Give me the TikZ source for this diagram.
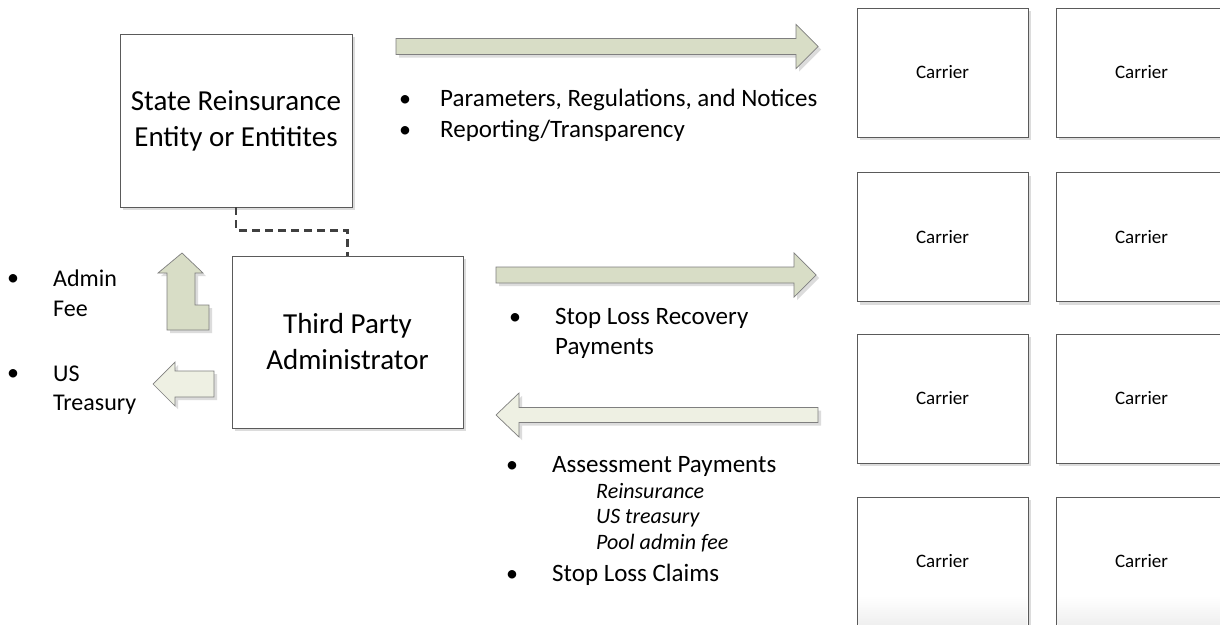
\documentclass[tikz,border=0pt]{standalone}
\usepackage{fontspec}
\setmainfont{Carlito}
\usetikzlibrary{shadows}

\definecolor{boxline}{HTML}{5A5A5A}
\definecolor{shadowc}{HTML}{DCDCDC}
\definecolor{arrowdark}{HTML}{D8DDC6}
\definecolor{arrowlight}{HTML}{EEF0E3}
\definecolor{arrowline}{HTML}{7F7F7F}
\definecolor{dashc}{HTML}{404040}

\tikzset{
  boxshadow/.style={drop shadow={shadow xshift=3pt, shadow yshift=-3pt, fill=shadowc, opacity=1}},
  entity/.style={draw=boxline, line width=0.9pt, fill=white, boxshadow,
    inner sep=0pt, align=center, font=\fontsize{29}{36}\selectfont},
  carrier/.style={draw=boxline, line width=0.9pt, fill=white, boxshadow,
    inner sep=0pt, minimum width=171pt, minimum height=129pt,
    font=\fontsize{19}{23}\selectfont},
  darkarrow/.style={fill=arrowdark, draw=arrowline, line width=0.7pt, line join=miter},
  lightarrow/.style={fill=arrowlight, draw=arrowline, line width=0.7pt, line join=miter},
  lbl/.style={anchor=base west, inner sep=0pt, font=\fontsize{24}{30}\selectfont},
  wlbl/.style={anchor=base west, inner sep=0pt, font=\fontsize{25}{30}\selectfont},
  ilbl/.style={anchor=base west, inner sep=0pt, font=\fontsize{22}{26}\selectfont\itshape},
  bul/.style={anchor=base, inner sep=0pt, font=\fontsize{24}{30}\selectfont},
  dashlink/.style={draw=dashc, line width=2.5pt, dash pattern=on 8pt off 5pt}
}

% horizontal block arrow: style, tail x, head base x, tip x, centre y, shaft half height, head half height
\newcommand\hblock[7]{%
  \fill[shadowc, shift={(3,3)}]
    ({#2},{#5-#6}) -- ({#3},{#5-#6}) -- ({#3},{#5-#7}) -- ({#4},{#5}) --
    ({#3},{#5+#7}) -- ({#3},{#5+#6}) -- ({#2},{#5+#6}) -- cycle;
  \path[#1]
    ({#2},{#5-#6}) -- ({#3},{#5-#6}) -- ({#3},{#5-#7}) -- ({#4},{#5}) --
    ({#3},{#5+#7}) -- ({#3},{#5+#6}) -- ({#2},{#5+#6}) -- cycle;
}

\begin{document}
\begin{tikzpicture}[x=1pt, y=-1pt]
\useasboundingbox[fill=white] (0,0) rectangle (1220,624);

% main entities
\node[entity, minimum width=232pt, minimum height=173pt] (state) at (236,120.5)
  {State Reinsurance\\Entity or Entitites};
\node[entity, minimum width=231pt, minimum height=172pt] (tpa) at (347.5,342)
  {Third Party\\Administrator};

% dashed link between the two entities
\draw[dashlink] (state.south) -- ++(0,23) -| (tpa.north);

% carrier grid
\foreach \r/\yc in {1/72.5, 2/237, 3/398.5, 4/561.5}{
  \node[carrier] (car\r a) at (942.5,\yc) {Carrier};
  \node[carrier] (car\r b) at (1141.5,\yc) {Carrier};
}
% soft fade at the foot of the lowest carriers
\shade[top color=white, bottom color=black!6] (858.5,596) rectangle (1027,624);
\shade[top color=white, bottom color=black!6] (1057.5,596) rectangle (1220,624);

% block arrows
\hblock{darkarrow}{396}{796}{818}{46.5}{8}{22}
\hblock{darkarrow}{496}{794}{816}{275}{8}{22}
\hblock{lightarrow}{818}{519}{496}{415}{7.5}{22}
\hblock{lightarrow}{214}{175}{153}{384}{13}{22}

% bent arrow for the admin fee
\fill[shadowc, shift={(3,3)}]
  (182,253) -- (203,273) -- (195,273) -- (195,305) -- (209,305) -- (209,330) --
  (167,330) -- (167,273) -- (158,273) -- cycle;
\path[darkarrow]
  (182,253) -- (203,273) -- (195,273) -- (195,305) -- (209,305) -- (209,330) --
  (167,330) -- (167,273) -- (158,273) -- cycle;

% left side labels
\node[bul] (b1) at (13,285) {•};
\node[lbl] (t1) at (53,286) {Admin};
\node[lbl] (t2) at (53,316) {Fee};
\node[bul] (b2) at (13,380) {•};
\node[lbl] (t3) at (53,381) {US};
\node[lbl] (t4) at (53,410) {Treasury};

% labels under the top arrow
\node[bul] (b3) at (405,106) {•};
\node[wlbl] (t5) at (440,106) {Parameters, Regulations, and Notices};
\node[bul] (b4) at (405,137) {•};
\node[wlbl] (t6) at (440,137) {Reporting/Transparency};

% labels under the middle arrow
\node[bul] (b5) at (515,324) {•};
\node[wlbl] (t7) at (555,324) {Stop Loss Recovery};
\node[wlbl] (t8) at (555,354) {Payments};

% labels under the bottom arrow
\node[bul] (b6) at (512,472) {•};
\node[wlbl] (t9) at (552,472) {Assessment Payments};
\node[ilbl] (t10) at (596,498) {Reinsurance};
\node[ilbl] (t11) at (596,523) {US treasury};
\node[ilbl] (t12) at (596,549) {Pool admin fee};
\node[bul] (b7) at (512,581) {•};
\node[wlbl] (t13) at (552,581) {Stop Loss Claims};
\end{tikzpicture}
\end{document}
